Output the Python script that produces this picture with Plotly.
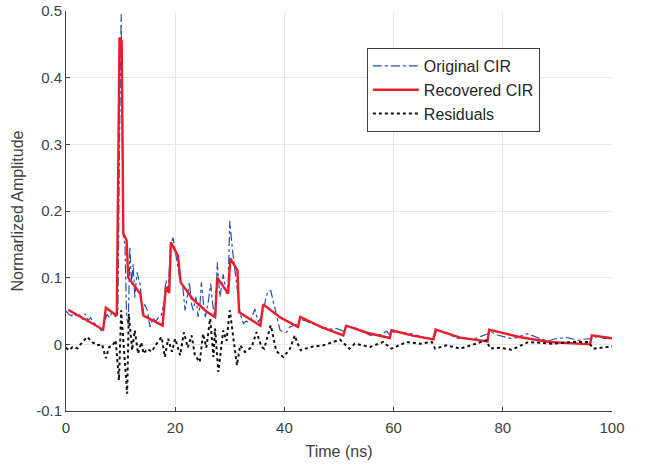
import plotly.graph_objects as go

# Original CIR (time in ns, amplitude)
orig_t = [0.0, 0.5, 1.0, 1.5, 2.0, 2.5, 3.0, 3.5, 4.0, 4.5, 5.0, 5.5, 6.0, 6.5, 7.0, 7.5, 8.0, 8.5, 9.0, 9.5,
          9.8, 10.1, 10.5, 10.8, 11.1, 11.4, 11.7, 12.0, 12.3, 12.6, 13.0, 13.3, 13.6, 14.0, 14.4, 14.9, 15.4,
          15.9, 16.4, 16.9, 17.4, 17.9, 18.3, 18.7, 19.2, 19.6, 20.0, 20.4, 20.9, 21.4, 21.8, 22.2, 22.6, 23.0,
          23.3, 23.8, 24.2, 24.5, 24.8, 25.2, 25.5, 26.0, 26.5, 26.8, 27.1, 27.4, 27.7, 28.0, 28.2, 28.8, 29.4,
          29.7, 30.0, 30.5, 30.9, 31.4, 31.9, 32.5, 33.0, 33.4, 34.0, 34.6, 35.2, 35.7, 36.1, 36.5, 36.9, 37.5,
          38.0, 38.3, 38.8, 39.2, 39.8, 40.4, 41.0, 41.6, 42.3, 42.9, 43.5, 44.0, 44.7, 45.5, 46.3, 47.1, 48.0,
          48.8, 49.5, 50.2, 50.8, 51.4, 52.2, 53.2, 54.0, 54.8, 55.7, 56.5, 57.3, 58.1, 58.7, 59.3, 59.9, 60.5,
          61.5, 62.4, 63.2, 64.0, 64.8, 65.6, 66.7, 67.5, 67.9, 68.5, 69.4, 70.3, 71.2, 72.2, 73.5, 74.9, 76.0,
          77.3, 78.0, 79.0, 80.0, 81.0, 81.6, 82.5, 83.5, 84.5, 85.0, 86.0, 87.0, 88.3, 89.5, 90.8, 91.8, 92.8,
          93.8, 95.0, 96.3, 97.5, 98.5, 100.0]
orig_y = [0.050, 0.045, 0.043, 0.047, 0.040, 0.044, 0.038, 0.046, 0.036, 0.040, 0.033, 0.030, 0.026, 0.020,
          0.032, 0.045, 0.040, 0.050, 0.042, 0.048, 0.300, 0.495, 0.163, 0.150, 0.040, 0.030, 0.146, 0.090,
          0.120, 0.070, 0.108, 0.100, 0.089, 0.044, 0.060, 0.051, 0.026, 0.040, 0.034, 0.040, 0.042, 0.060,
          0.096, 0.081, 0.150, 0.160, 0.140, 0.120, 0.096, 0.086, 0.051, 0.070, 0.093, 0.060, 0.051, 0.071,
          0.041, 0.055, 0.093, 0.060, 0.041, 0.060, 0.091, 0.065, 0.046, 0.040, 0.123, 0.090, 0.071, 0.105,
          0.076, 0.090, 0.185, 0.141, 0.110, 0.080, 0.046, 0.031, 0.035, 0.033, 0.040, 0.053, 0.033, 0.040,
          0.051, 0.065, 0.078, 0.081, 0.065, 0.051, 0.035, 0.021, 0.020, 0.018, 0.026, 0.028, 0.030, 0.039,
          0.036, 0.035, 0.032, 0.030, 0.027, 0.024, 0.025, 0.022, 0.024, 0.022, 0.020, 0.027, 0.026, 0.024,
          0.020, 0.017, 0.0135, 0.015, 0.014, 0.016, 0.020, 0.014, 0.019, 0.018, 0.018, 0.017, 0.016, 0.014,
          0.011, 0.010, 0.0085, 0.012, 0.021, 0.020, 0.018, 0.015, 0.010, 0.0085, 0.009, 0.0085, 0.012,
          0.016, 0.018, 0.014, 0.012, 0.009, 0.0085, 0.010, 0.013, 0.016, 0.0145, 0.011, 0.008, 0.005,
          0.008, 0.0095, 0.010, 0.008, 0.006, 0.008, 0.0085, 0.012, 0.009, 0.0085]

# Recovered CIR
rec_t = [0.4, 6.8, 7.3, 9.3, 9.8, 10.2, 10.5, 11.1, 11.4, 13.6, 14.2, 17.7, 18.3, 18.9, 19.2, 20.5, 21.0,
         23.3, 25.8, 27.3, 27.7, 29.7, 30.1, 31.4, 31.7, 35.6, 36.1, 39.3, 42.5, 42.9, 47.0, 50.8, 51.3,
         55.3, 59.3, 59.6, 63.5, 67.3, 67.7, 72.2, 77.2, 77.5, 83.0, 88.6, 96.0, 96.3, 100.0]
rec_y = [0.052, 0.022, 0.055, 0.043, 0.460, 0.455, 0.166, 0.156, 0.100, 0.076, 0.043, 0.028, 0.086, 0.077,
         0.153, 0.133, 0.093, 0.067, 0.049, 0.041, 0.100, 0.076, 0.129, 0.111, 0.048, 0.028, 0.060, 0.040,
         0.026, 0.041, 0.025, 0.0135, 0.028, 0.017, 0.0095, 0.021, 0.013, 0.0075, 0.022, 0.010, 0.0045,
         0.022, 0.011, 0.0035, 0.000, 0.0135, 0.009]

# Residuals
res_t = [0.0, 0.5, 1.2, 2.1, 3.0, 3.9, 4.8, 5.7, 6.6, 7.3, 7.9, 8.5, 9.1, 9.7, 10.1, 10.6, 11.2, 11.5, 12.1,
         12.6, 13.2, 13.8, 14.2, 14.9, 15.7, 16.5, 17.5, 18.1, 18.7, 19.4, 20.0, 20.9, 21.6, 22.3, 23.0, 23.6,
         24.5, 25.1, 25.7, 26.4, 27.0, 27.3, 27.9, 28.8, 29.4, 30.0, 31.3, 31.9, 32.8, 34.0, 34.9, 35.8, 36.3,
         37.5, 38.5, 39.8, 41.0, 41.9, 42.3, 43.0, 44.7, 47.1, 50.2, 51.9, 52.9, 55.7, 58.1, 59.6, 62.4, 64.8,
         67.0, 67.6, 69.7, 72.2, 74.9, 77.0, 77.7, 79.5, 81.6, 84.7, 89.0, 92.6, 95.7, 96.6, 100.0]
res_y = [-0.005, -0.009, -0.004, -0.006, 0.0035, 0.011, 0.0035, -0.0015, 0.000, -0.021, -0.004, -0.002,
         0.006, -0.054, 0.051, -0.004, -0.074, 0.046, -0.009, 0.021, -0.014, 0.003, -0.014, -0.007, -0.011,
         0.000, 0.011, -0.019, 0.0085, -0.011, 0.0085, -0.0165, 0.018, -0.005, 0.0135, -0.0165, -0.0265,
         0.016, -0.005, 0.0385, -0.019, 0.0235, -0.0415, 0.021, 0.005, 0.051, -0.0315, -0.0015, -0.0115,
         -0.004, 0.0185, -0.004, -0.0065, 0.0285, -0.010, -0.019, -0.007, 0.0135, 0.0035, -0.009, -0.004,
         -0.0015, 0.007, -0.0065, 0.001, -0.004, 0.0035, -0.0065, 0.0035, 0.001, 0.0035, -0.0065, -0.0015,
         -0.0065, 0.001, 0.006, -0.0065, -0.005, -0.008, 0.0035, 0.001, 0.0035, 0.0035, -0.0065, -0.003]

x_ticks = [0, 20, 40, 60, 80, 100]
y_ticks = [-0.1, 0, 0.1, 0.2, 0.3, 0.4, 0.5]
y_tick_text = ["-0.1", "0", "0.1", "0.2", "0.3", "0.4", "0.5"]

FONT = "Liberation Sans, Arial"
fig = go.Figure()
fig.add_trace(go.Scatter(x=orig_t, y=orig_y, mode="lines", name="Original CIR",
                         line=dict(color="#2452b0", width=1.2, dash="dashdot")))
fig.add_trace(go.Scatter(x=rec_t, y=rec_y, mode="lines", name="Recovered CIR",
                         line=dict(color="#ec1c2a", width=2.4)))
fig.add_trace(go.Scatter(x=res_t, y=res_y, mode="lines", name="Residuals",
                         line=dict(color="#111111", width=2, dash="dot")))

axis_common = dict(showgrid=True, gridcolor="#e6e6e6", gridwidth=1, zeroline=False,
                   showline=True, linecolor="#404040", linewidth=1, ticks="inside", ticklen=4,
                   tickcolor="#404040", tickfont=dict(family=FONT, size=15, color="#404040"),
                   mirror=False, automargin=False)

fig.update_layout(
    width=645, height=466,
    margin=dict(l=66, r=33, t=11, b=55),
    paper_bgcolor="white", plot_bgcolor="white",
    font=dict(family=FONT, color="#404040"),
    showlegend=True,
    legend=dict(x=0.551, y=0.9075, xanchor="left", yanchor="top",
                bgcolor="white", bordercolor="#404040", borderwidth=1,
                font=dict(family=FONT, size=16, color="#262626"),
                tracegroupgap=0, itemwidth=46),
    xaxis=dict(range=[0, 100], tickvals=x_ticks, ticklabelstandoff=3,
               title=dict(text="Time (ns)", standoff=10, font=dict(family=FONT, size=16, color="#404040")),
               **axis_common),
    yaxis=dict(range=[-0.1, 0.5], tickvals=y_ticks, ticktext=y_tick_text,
               title=dict(text="Normarlized Amplitude", standoff=8,
                          font=dict(family=FONT, size=16, color="#404040")),
               **axis_common),
)

fig.write_html("out.html")
